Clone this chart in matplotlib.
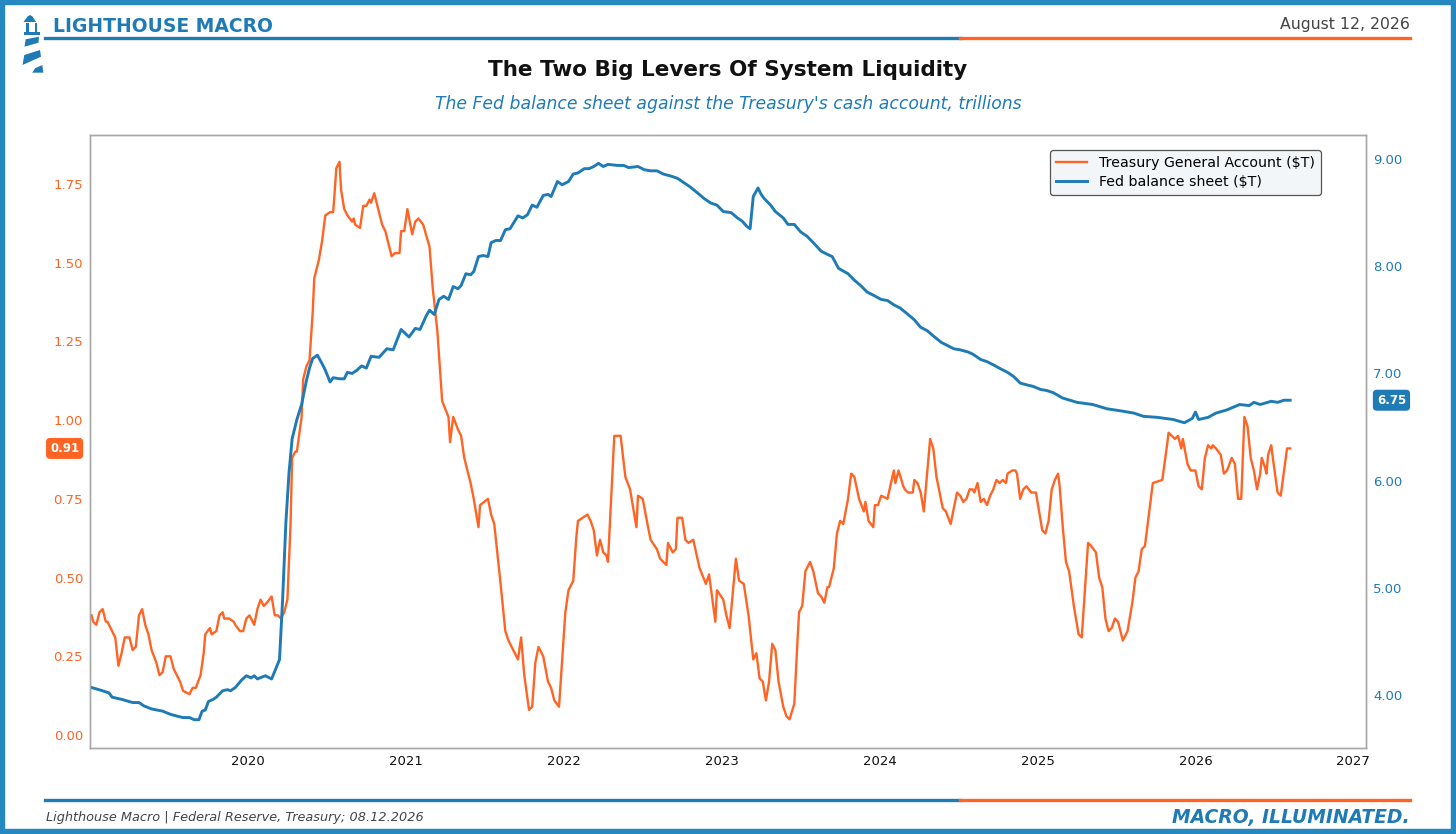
import matplotlib
matplotlib.use("Agg")
import matplotlib.pyplot as plt
import matplotlib.transforms as mtransforms
from matplotlib.patches import Polygon, Rectangle
from matplotlib.lines import Line2D

BLUE = "#1F7BB6"
FRAME = "#2688C0"
ORANGE = "#FF6424"
W, H = 1456, 834

# Treasury General Account, trillions (decimal year, value)
tga_years = [
    2019.01, 2019.02, 2019.04, 2019.06, 2019.08, 2019.10, 2019.11, 2019.14, 2019.16, 2019.18,
    2019.20, 2019.22, 2019.25, 2019.27, 2019.29, 2019.31, 2019.33, 2019.35, 2019.37, 2019.39,
    2019.42, 2019.44, 2019.46, 2019.48, 2019.51, 2019.53, 2019.54, 2019.57, 2019.59, 2019.63,
    2019.65, 2019.67, 2019.70, 2019.72, 2019.73, 2019.76, 2019.77, 2019.80, 2019.82, 2019.84,
    2019.85, 2019.88, 2019.91, 2019.92, 2019.95, 2019.97, 2019.99, 2020.01, 2020.04, 2020.06,
    2020.08, 2020.10, 2020.12, 2020.15, 2020.17, 2020.19, 2020.21, 2020.23, 2020.25, 2020.27,
    2020.28, 2020.30, 2020.31, 2020.34, 2020.35, 2020.37, 2020.39, 2020.41, 2020.42, 2020.45,
    2020.47, 2020.49, 2020.52, 2020.54, 2020.56, 2020.58, 2020.59, 2020.61, 2020.63, 2020.66,
    2020.67, 2020.68, 2020.71, 2020.73, 2020.75, 2020.77, 2020.78, 2020.80, 2020.82, 2020.85,
    2020.87, 2020.89, 2020.91, 2020.93, 2020.96, 2020.97, 2020.99, 2021.01, 2021.04, 2021.06,
    2021.08, 2021.11, 2021.15, 2021.17, 2021.20, 2021.23, 2021.27, 2021.28, 2021.30, 2021.33,
    2021.35, 2021.37, 2021.41, 2021.43, 2021.46, 2021.47, 2021.52, 2021.54, 2021.56, 2021.60,
    2021.63, 2021.65, 2021.71, 2021.73, 2021.75, 2021.78, 2021.80, 2021.82, 2021.84, 2021.87,
    2021.90, 2021.92, 2021.94, 2021.97, 2022.01, 2022.03, 2022.06, 2022.08, 2022.09, 2022.15,
    2022.17, 2022.19, 2022.21, 2022.23, 2022.25, 2022.27, 2022.28, 2022.32, 2022.36, 2022.39,
    2022.42, 2022.46, 2022.47, 2022.50, 2022.53, 2022.55, 2022.59, 2022.61, 2022.65, 2022.66,
    2022.69, 2022.71, 2022.72, 2022.75, 2022.77, 2022.79, 2022.82, 2022.86, 2022.90, 2022.92,
    2022.96, 2022.97, 2023.01, 2023.03, 2023.05, 2023.09, 2023.11, 2023.14, 2023.17, 2023.20,
    2023.22, 2023.24, 2023.26, 2023.28, 2023.30, 2023.32, 2023.34, 2023.36, 2023.39, 2023.41,
    2023.43, 2023.46, 2023.48, 2023.49, 2023.51, 2023.53, 2023.56, 2023.58, 2023.61, 2023.63,
    2023.65, 2023.67, 2023.68, 2023.71, 2023.73, 2023.75, 2023.77, 2023.80, 2023.82, 2023.84,
    2023.87, 2023.90, 2023.91, 2023.93, 2023.96, 2023.97, 2023.99, 2024.01, 2024.05, 2024.09,
    2024.10, 2024.12, 2024.15, 2024.16, 2024.18, 2024.21, 2024.22, 2024.24, 2024.26, 2024.28,
    2024.32, 2024.34, 2024.36, 2024.40, 2024.42, 2024.45, 2024.47, 2024.49, 2024.51, 2024.53,
    2024.55, 2024.57, 2024.59, 2024.60, 2024.62, 2024.64, 2024.66, 2024.68, 2024.70, 2024.72,
    2024.74, 2024.76, 2024.78, 2024.80, 2024.81, 2024.84, 2024.86, 2024.87, 2024.89, 2024.91,
    2024.93, 2024.96, 2024.99, 2025.01, 2025.03, 2025.05, 2025.07, 2025.09, 2025.11, 2025.13,
    2025.14, 2025.16, 2025.18, 2025.20, 2025.23, 2025.25, 2025.26, 2025.28, 2025.32, 2025.34,
    2025.37, 2025.39, 2025.41, 2025.43, 2025.45, 2025.47, 2025.49, 2025.51, 2025.53, 2025.54,
    2025.57, 2025.60, 2025.62, 2025.64, 2025.66, 2025.68, 2025.72, 2025.73, 2025.79, 2025.82,
    2025.83, 2025.85, 2025.87, 2025.89, 2025.90, 2025.91, 2025.92, 2025.95, 2025.97, 2026.00,
    2026.02, 2026.04, 2026.06, 2026.08, 2026.10, 2026.11, 2026.13, 2026.16, 2026.18, 2026.20,
    2026.23, 2026.25, 2026.27, 2026.29, 2026.31, 2026.33, 2026.35, 2026.37, 2026.39, 2026.41,
    2026.42, 2026.44, 2026.45, 2026.46, 2026.48, 2026.49, 2026.52, 2026.54, 2026.58, 2026.60,
]
tga_vals = [
    0.38, 0.36, 0.35, 0.39, 0.40, 0.36, 0.36, 0.33, 0.31, 0.22,
    0.26, 0.31, 0.31, 0.27, 0.28, 0.38, 0.40, 0.35, 0.32, 0.27,
    0.23, 0.19, 0.20, 0.25, 0.25, 0.21, 0.20, 0.17, 0.14, 0.13,
    0.15, 0.15, 0.19, 0.26, 0.32, 0.34, 0.32, 0.33, 0.38, 0.39,
    0.37, 0.37, 0.36, 0.35, 0.33, 0.33, 0.37, 0.38, 0.35, 0.40,
    0.43, 0.41, 0.42, 0.44, 0.38, 0.38, 0.37, 0.39, 0.43, 0.67,
    0.88, 0.90, 0.90, 1.01, 1.13, 1.17, 1.19, 1.34, 1.45, 1.51,
    1.57, 1.65, 1.66, 1.66, 1.80, 1.82, 1.73, 1.67, 1.65, 1.63,
    1.64, 1.62, 1.61, 1.68, 1.68, 1.70, 1.69, 1.72, 1.68, 1.62,
    1.60, 1.56, 1.52, 1.53, 1.53, 1.60, 1.60, 1.67, 1.59, 1.63,
    1.64, 1.62, 1.55, 1.42, 1.28, 1.06, 1.01, 0.93, 1.01, 0.97,
    0.95, 0.88, 0.80, 0.75, 0.66, 0.73, 0.75, 0.70, 0.67, 0.48,
    0.33, 0.30, 0.24, 0.31, 0.19, 0.08, 0.09, 0.23, 0.28, 0.25,
    0.17, 0.15, 0.11, 0.09, 0.39, 0.46, 0.49, 0.63, 0.68, 0.70,
    0.68, 0.65, 0.57, 0.62, 0.58, 0.57, 0.55, 0.95, 0.95, 0.82,
    0.78, 0.66, 0.76, 0.75, 0.67, 0.62, 0.59, 0.56, 0.54, 0.61,
    0.58, 0.59, 0.69, 0.69, 0.62, 0.61, 0.62, 0.53, 0.48, 0.51,
    0.36, 0.46, 0.43, 0.38, 0.34, 0.56, 0.49, 0.48, 0.38, 0.24,
    0.26, 0.18, 0.17, 0.11, 0.17, 0.29, 0.27, 0.17, 0.09, 0.06,
    0.05, 0.10, 0.30, 0.39, 0.41, 0.52, 0.55, 0.52, 0.45, 0.44,
    0.42, 0.47, 0.47, 0.53, 0.64, 0.68, 0.67, 0.75, 0.83, 0.82,
    0.75, 0.71, 0.74, 0.68, 0.66, 0.73, 0.73, 0.76, 0.75, 0.84,
    0.80, 0.84, 0.79, 0.78, 0.77, 0.77, 0.81, 0.80, 0.77, 0.71,
    0.94, 0.91, 0.82, 0.72, 0.71, 0.67, 0.72, 0.77, 0.76, 0.74,
    0.75, 0.78, 0.78, 0.77, 0.80, 0.74, 0.75, 0.73, 0.76, 0.78,
    0.81, 0.80, 0.81, 0.80, 0.83, 0.84, 0.84, 0.83, 0.75, 0.78,
    0.79, 0.77, 0.77, 0.71, 0.65, 0.64, 0.68, 0.78, 0.81, 0.83,
    0.79, 0.66, 0.55, 0.52, 0.41, 0.35, 0.32, 0.31, 0.61, 0.60,
    0.58, 0.50, 0.47, 0.37, 0.33, 0.34, 0.37, 0.36, 0.32, 0.30,
    0.33, 0.42, 0.50, 0.52, 0.59, 0.60, 0.76, 0.80, 0.81, 0.92,
    0.96, 0.95, 0.94, 0.95, 0.93, 0.91, 0.94, 0.86, 0.84, 0.84,
    0.79, 0.78, 0.88, 0.92, 0.91, 0.92, 0.91, 0.89, 0.83, 0.84,
    0.88, 0.86, 0.75, 0.75, 1.01, 0.98, 0.88, 0.84, 0.78, 0.83,
    0.88, 0.85, 0.83, 0.89, 0.92, 0.88, 0.77, 0.76, 0.91, 0.91,
]

# Fed balance sheet, trillions (decimal year, value)
fed_years = [
    2019.01, 2019.08, 2019.12, 2019.14, 2019.20, 2019.27, 2019.31, 2019.34, 2019.39, 2019.46,
    2019.51, 2019.56, 2019.59, 2019.63, 2019.66, 2019.69, 2019.71, 2019.73, 2019.75, 2019.78,
    2019.80, 2019.84, 2019.87, 2019.89, 2019.92, 2019.96, 2019.99, 2020.02, 2020.04, 2020.06,
    2020.11, 2020.15, 2020.20, 2020.22, 2020.24, 2020.26, 2020.28, 2020.31, 2020.34, 2020.37,
    2020.39, 2020.41, 2020.44, 2020.47, 2020.49, 2020.52, 2020.54, 2020.58, 2020.61, 2020.63,
    2020.66, 2020.69, 2020.72, 2020.75, 2020.78, 2020.83, 2020.88, 2020.92, 2020.97, 2021.02,
    2021.06, 2021.09, 2021.13, 2021.15, 2021.18, 2021.21, 2021.24, 2021.27, 2021.30, 2021.33,
    2021.35, 2021.38, 2021.41, 2021.43, 2021.46, 2021.49, 2021.52, 2021.54, 2021.57, 2021.60,
    2021.63, 2021.66, 2021.71, 2021.74, 2021.77, 2021.80, 2021.83, 2021.87, 2021.90, 2021.92,
    2021.96, 2021.99, 2022.03, 2022.06, 2022.09, 2022.13, 2022.16, 2022.19, 2022.22, 2022.25,
    2022.28, 2022.34, 2022.38, 2022.41, 2022.47, 2022.51, 2022.55, 2022.59, 2022.63, 2022.68,
    2022.72, 2022.76, 2022.80, 2022.85, 2022.89, 2022.93, 2022.97, 2023.01, 2023.06, 2023.10,
    2023.13, 2023.16, 2023.18, 2023.20, 2023.23, 2023.25, 2023.27, 2023.31, 2023.34, 2023.39,
    2023.42, 2023.46, 2023.50, 2023.54, 2023.58, 2023.63, 2023.67, 2023.70, 2023.74, 2023.80,
    2023.84, 2023.88, 2023.92, 2023.96, 2024.01, 2024.05, 2024.09, 2024.13, 2024.18, 2024.22,
    2024.26, 2024.30, 2024.34, 2024.39, 2024.43, 2024.47, 2024.51, 2024.56, 2024.59, 2024.64,
    2024.68, 2024.72, 2024.77, 2024.81, 2024.85, 2024.89, 2024.94, 2024.97, 2025.02, 2025.06,
    2025.10, 2025.16, 2025.25, 2025.35, 2025.44, 2025.53, 2025.61, 2025.67, 2025.76, 2025.86,
    2025.93, 2025.98, 2026.00, 2026.02, 2026.08, 2026.13, 2026.20, 2026.28, 2026.34, 2026.37,
    2026.41, 2026.48, 2026.52, 2026.56, 2026.60,
]
fed_vals = [
    4.07, 4.04, 4.02, 3.98, 3.96, 3.93, 3.93, 3.90, 3.87, 3.85,
    3.82, 3.80, 3.79, 3.79, 3.77, 3.77, 3.85, 3.86, 3.94, 3.96,
    3.98, 4.04, 4.05, 4.04, 4.07, 4.14, 4.18, 4.16, 4.18, 4.15,
    4.18, 4.15, 4.33, 4.90, 5.60, 6.07, 6.39, 6.57, 6.71, 6.93,
    7.05, 7.14, 7.17, 7.09, 7.03, 6.92, 6.96, 6.95, 6.95, 7.01,
    7.00, 7.03, 7.07, 7.05, 7.16, 7.15, 7.23, 7.22, 7.41, 7.34,
    7.42, 7.41, 7.54, 7.59, 7.55, 7.69, 7.72, 7.69, 7.81, 7.79,
    7.82, 7.93, 7.92, 7.95, 8.09, 8.10, 8.09, 8.22, 8.24, 8.24,
    8.34, 8.35, 8.47, 8.45, 8.48, 8.57, 8.55, 8.66, 8.67, 8.65,
    8.79, 8.76, 8.79, 8.86, 8.87, 8.91, 8.91, 8.93, 8.96, 8.93,
    8.95, 8.94, 8.94, 8.92, 8.93, 8.90, 8.89, 8.89, 8.86, 8.84,
    8.82, 8.78, 8.74, 8.68, 8.63, 8.59, 8.57, 8.51, 8.50, 8.45,
    8.42, 8.37, 8.35, 8.65, 8.73, 8.67, 8.63, 8.57, 8.51, 8.45,
    8.39, 8.39, 8.32, 8.28, 8.22, 8.14, 8.11, 8.09, 7.98, 7.93,
    7.87, 7.82, 7.76, 7.73, 7.69, 7.68, 7.64, 7.61, 7.55, 7.50,
    7.43, 7.40, 7.35, 7.29, 7.26, 7.23, 7.22, 7.20, 7.18, 7.13,
    7.11, 7.08, 7.04, 7.01, 6.97, 6.91, 6.89, 6.88, 6.85, 6.84,
    6.82, 6.77, 6.73, 6.71, 6.67, 6.65, 6.63, 6.60, 6.59, 6.57,
    6.54, 6.58, 6.64, 6.57, 6.59, 6.63, 6.66, 6.71, 6.70, 6.73,
    6.71, 6.74, 6.73, 6.75, 6.75,
]

left_ticks = [0.0, 0.25, 0.5, 0.75, 1.0, 1.25, 1.5, 1.75]
right_ticks = [4, 5, 6, 7, 8, 9]
year_ticks = [2020, 2021, 2022, 2023, 2024, 2025, 2026, 2027]


def px(x, y):
    return (x / W, 1 - y / H)


fig = plt.figure(figsize=(W / 100, H / 100), dpi=100)
fig.patch.set_facecolor("white")

ax = fig.add_axes([90 / W, 1 - 748 / H, (1366 - 90) / W, (748 - 135) / H])
ax2 = ax.twinx()

l1, = ax.plot(tga_years, tga_vals, color=ORANGE, lw=1.7, label="Treasury General Account ($T)")
l2, = ax2.plot(fed_years, fed_vals, color=BLUE, lw=2.1, label="Fed balance sheet ($T)")

ax.set_xlim(2019.0, 2027.08)
ax.set_ylim(-0.041, 1.905)
ax2.set_ylim(3.506, 9.224)

ax.set_xticks(year_ticks)
ax.set_xticklabels([str(y) for y in year_ticks])
ax.set_yticks(left_ticks)
ax.set_yticklabels(["%.2f" % v for v in left_ticks])
ax2.set_yticks(right_ticks)
ax2.set_yticklabels(["%.2f" % v for v in right_ticks])

ax.tick_params(axis="x", length=0, pad=5, labelsize=9.5, colors="#111111")
ax.tick_params(axis="y", length=0, pad=5, labelsize=9.5, colors=ORANGE)
ax2.tick_params(axis="y", length=0, pad=5, labelsize=9.5, colors=BLUE)
for a in (ax, ax2):
    for s in a.spines.values():
        s.set_color("#a8a8a8")
        s.set_linewidth(1.0)

# last-value tags
last_tga = tga_vals[-1]
last_fed = fed_vals[-1]
t_left = mtransforms.blended_transform_factory(ax.transAxes, ax.transData)
ax.text(-0.0085, last_tga, "%.2f" % last_tga, transform=t_left, ha="right", va="center",
        color="white", fontsize=8.5, fontweight="bold", clip_on=False,
        bbox=dict(boxstyle="round,pad=0.28", fc=ORANGE, ec=ORANGE))
t_right = mtransforms.blended_transform_factory(ax2.transAxes, ax2.transData)
ax2.text(1.0085, last_fed, "%.2f" % last_fed, transform=t_right, ha="left", va="center",
         color="white", fontsize=8.5, fontweight="bold", clip_on=False,
         bbox=dict(boxstyle="round,pad=0.28", fc=BLUE, ec=BLUE))

leg = ax2.legend(handles=[l1, l2], loc="upper right", bbox_to_anchor=(0.9647, 0.9755),
                 borderaxespad=0, fontsize=10.2, frameon=True, fancybox=True,
                 handlelength=2.2, borderpad=0.45, labelspacing=0.3)
leg.get_frame().set_edgecolor("#555555")
leg.get_frame().set_facecolor("#F3F6F9")
leg.get_frame().set_linewidth(0.9)
leg.get_frame().set_alpha(1)

# header / footer
fig.text(53 / W, 1 - 27 / H, "LIGHTHOUSE MACRO", color=BLUE, fontsize=13.5, fontweight="bold",
         ha="left", va="center")
fig.text(1410 / W, 1 - 25 / H, "August 12, 2026", color="#444444", fontsize=11.3,
         ha="right", va="center")
fig.text(0.5, 1 - 70 / H, "The Two Big Levers Of System Liquidity", color="#111111",
         fontsize=15.5, fontweight="bold", ha="center", va="center")
fig.text(0.5, 1 - 104 / H, "The Fed balance sheet against the Treasury's cash account, trillions",
         color=BLUE, fontsize=12.4, style="italic", ha="center", va="center")
fig.text(46 / W, 1 - 818 / H, "Lighthouse Macro | Federal Reserve, Treasury; 08.12.2026",
         color="#444444", fontsize=9.3, style="italic", ha="left", va="center")
fig.text(1410 / W, 1 - 818 / H, "MACRO, ILLUMINATED.", color=BLUE, fontsize=13.5,
         fontweight="bold", style="italic", ha="right", va="center")

for yy in (38, 800):
    fig.add_artist(Line2D([45 / W, 960 / W], [1 - yy / H] * 2, color=BLUE, lw=2.4))
    fig.add_artist(Line2D([960 / W, 1410 / W], [1 - yy / H] * 2, color=ORANGE, lw=2.4))

# lighthouse logo
shapes = [
    [(23.5, 22), (27.5, 16.5), (30, 15), (32.5, 16.5), (36, 22)],
    [(26, 23), (28.5, 23), (28.5, 32), (26, 32)],
    [(34.5, 23), (37, 23), (37, 32), (34.5, 32)],
    [(23.5, 31.5), (40, 31.5), (40, 35), (23.5, 35)],
    [(25.7, 39.3), (39, 36.7), (38.5, 42.7), (24.5, 46.7)],
    [(24.3, 55), (40, 50), (41, 56.7), (22.5, 65)],
    [(35, 68.3), (42.3, 65), (43.3, 72.7), (32.3, 72.7)],
]
for pts in shapes:
    fig.add_artist(Polygon([px(x, y) for x, y in pts], closed=True, fc=BLUE, ec="none",
                           transform=fig.transFigure))

# outer frame
fig.add_artist(Rectangle((0, 0), 1, 1, transform=fig.transFigure, fill=False,
                         ec=FRAME, lw=7.5))

fig.savefig("out.png", dpi=100, facecolor="white")
